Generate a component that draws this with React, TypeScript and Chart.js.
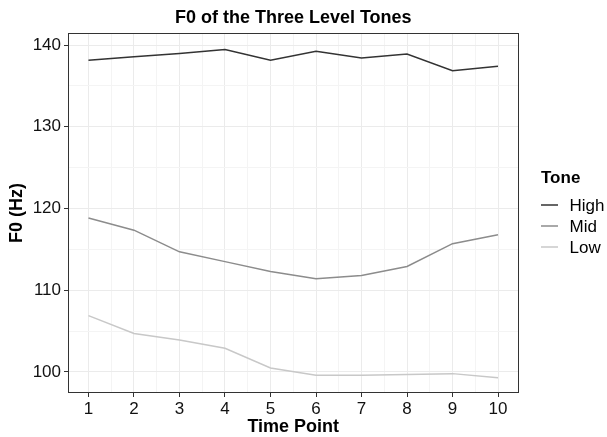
import React, { useEffect, useRef } from "react";
import { Chart, registerables } from "chart.js";

Chart.register(...registerables);

const TITLE = "F0 of the Three Level Tones";
const X_TITLE = "Time Point";
const Y_TITLE = "F0 (Hz)";
const LEGEND_TITLE = "Tone";

const timePoints = [1, 2, 3, 4, 5, 6, 7, 8, 9, 10];
const toneNames = ["High", "Mid", "Low"];
const highF0 = [138.15, 138.55, 138.95, 139.45, 138.15, 139.25, 138.4, 138.9, 136.85, 137.4];
const midF0 = [118.85, 117.35, 114.7, 113.5, 112.3, 111.4, 111.8, 112.9, 115.7, 116.8];
const lowF0 = [106.9, 104.7, 103.9, 102.9, 100.5, 99.6, 99.6, 99.7, 99.8, 99.3];
const toneColors = ["#333333", "#8c8c8c", "#c8c8c8"];

const xMajorTicks = [1, 2, 3, 4, 5, 6, 7, 8, 9, 10];
const xMinorTicks = [1.5, 2.5, 3.5, 4.5, 5.5, 6.5, 7.5, 8.5, 9.5];
const yMajorTicks = [100, 110, 120, 130, 140];
const yMinorTicks = [105, 115, 125, 135];

const FONT = "'Liberation Sans', Arial, Helvetica, sans-serif";

const isMajor = (list: number[], v: number) => list.some((m) => Math.abs(m - v) < 1e-9);

const ggPlugin = {
  id: "ggDecor",
  afterDraw(chart: any) {
    const { ctx, chartArea: a } = chart;
    ctx.save();
    // panel border
    ctx.strokeStyle = "#333333";
    ctx.lineWidth = 1;
    ctx.strokeRect(Math.round(a.left) + 0.5, Math.round(a.top) + 0.5, Math.round(a.right - a.left) - 1, Math.round(a.bottom - a.top) - 1);
    // title
    ctx.fillStyle = "#000";
    ctx.font = `bold 18px ${FONT}`;
    ctx.textAlign = "center";
    ctx.textBaseline = "middle";
    ctx.fillText(TITLE, (a.left + a.right) / 2, 18.5);
    // legend
    ctx.textAlign = "left";
    ctx.font = `bold 17px ${FONT}`;
    ctx.fillText(LEGEND_TITLE, 541, 178);
    chart.data.datasets.forEach((ds: any, i: number) => {
      const y = 205 + i * 21;
      ctx.strokeStyle = ds.borderColor;
      ctx.lineWidth = 1.5;
      ctx.beginPath();
      ctx.moveTo(541, y);
      ctx.lineTo(558, y);
      ctx.stroke();
      ctx.font = `17px ${FONT}`;
      ctx.fillStyle = "#000";
      ctx.fillText(ds.label, 569.5, y + 1);
    });
    ctx.restore();
  },
};

export default function App() {
  const ref = useRef<HTMLCanvasElement | null>(null);
  useEffect(() => {
    if (!ref.current) return;
    const series = [highF0, midF0, lowF0];
    const chart = new Chart(ref.current, {
      type: "line",
      data: {
        datasets: toneNames.map((name, i) => ({
          label: name,
          data: timePoints.map((t, j) => ({ x: t, y: series[i][j] })),
          borderColor: toneColors[i],
          backgroundColor: toneColors[i],
          borderWidth: 1.5,
          pointRadius: 0,
          tension: 0,
          fill: false,
        })),
      },
      options: {
        animation: false,
        responsive: false,
        maintainAspectRatio: false,
        layout: { padding: { top: 33, right: 88.5, left: 0, bottom: 0 } },
        plugins: { legend: { display: false }, tooltip: { enabled: false }, title: { display: false } },
        scales: {
          x: {
            type: "linear",
            min: 0.55,
            max: 10.45,
            afterBuildTicks: (s: any) => {
              s.ticks = [...xMajorTicks, ...xMinorTicks].sort((p, q) => p - q).map((v) => ({ value: v }));
            },
            afterFit: (s: any) => {
              s.height = 44;
            },
            ticks: {
              autoSkip: false,
              maxRotation: 0,
              padding: 2,
              color: "#111",
              font: { family: FONT, size: 17 },
              callback: (v: any) => (isMajor(xMajorTicks, Number(v)) ? String(v) : ""),
            },
            grid: {
              color: (c: any) => (c.tick && isMajor(xMajorTicks, c.tick.value) ? "#ebebeb" : "#f4f4f4"),
              lineWidth: 1,
              tickLength: 4,
              tickColor: (c: any) => (c.tick && isMajor(xMajorTicks, c.tick.value) ? "#333333" : "rgba(0,0,0,0)"),
            },
            border: { display: false },
            title: {
              display: true,
              text: X_TITLE,
              color: "#000",
              font: { family: FONT, size: 18, weight: "bold", lineHeight: 1 },
              padding: { top: 0, bottom: 0.5 },
            },
          },
          y: {
            type: "linear",
            min: 97.43,
            max: 141.47,
            afterBuildTicks: (s: any) => {
              s.ticks = [...yMajorTicks, ...yMinorTicks].sort((p, q) => p - q).map((v) => ({ value: v }));
            },
            afterFit: (s: any) => {
              s.width = 68;
            },
            ticks: {
              autoSkip: false,
              padding: 3,
              color: "#111",
              font: { family: FONT, size: 17 },
              callback: (v: any) => (isMajor(yMajorTicks, Number(v)) ? String(v) : ""),
            },
            grid: {
              color: (c: any) => (c.tick && isMajor(yMajorTicks, c.tick.value) ? "#ebebeb" : "#f4f4f4"),
              lineWidth: 1,
              tickLength: 4,
              tickColor: (c: any) => (c.tick && isMajor(yMajorTicks, c.tick.value) ? "#333333" : "rgba(0,0,0,0)"),
            },
            border: { display: false },
            title: {
              display: true,
              text: Y_TITLE,
              color: "#000",
              font: { family: FONT, size: 18, weight: "bold", lineHeight: 1 },
              padding: { top: 8, bottom: 0 },
            },
          },
        },
      } as any,
      plugins: [ggPlugin],
    });
    return () => chart.destroy();
  }, []);
  return (
    <div style={{ position: "fixed", left: 0, top: 0, width: 607, height: 437, background: "#fff" }}>
      <canvas ref={ref} width={607} height={437} style={{ display: "block", width: 607, height: 437 }} />
    </div>
  );
}
